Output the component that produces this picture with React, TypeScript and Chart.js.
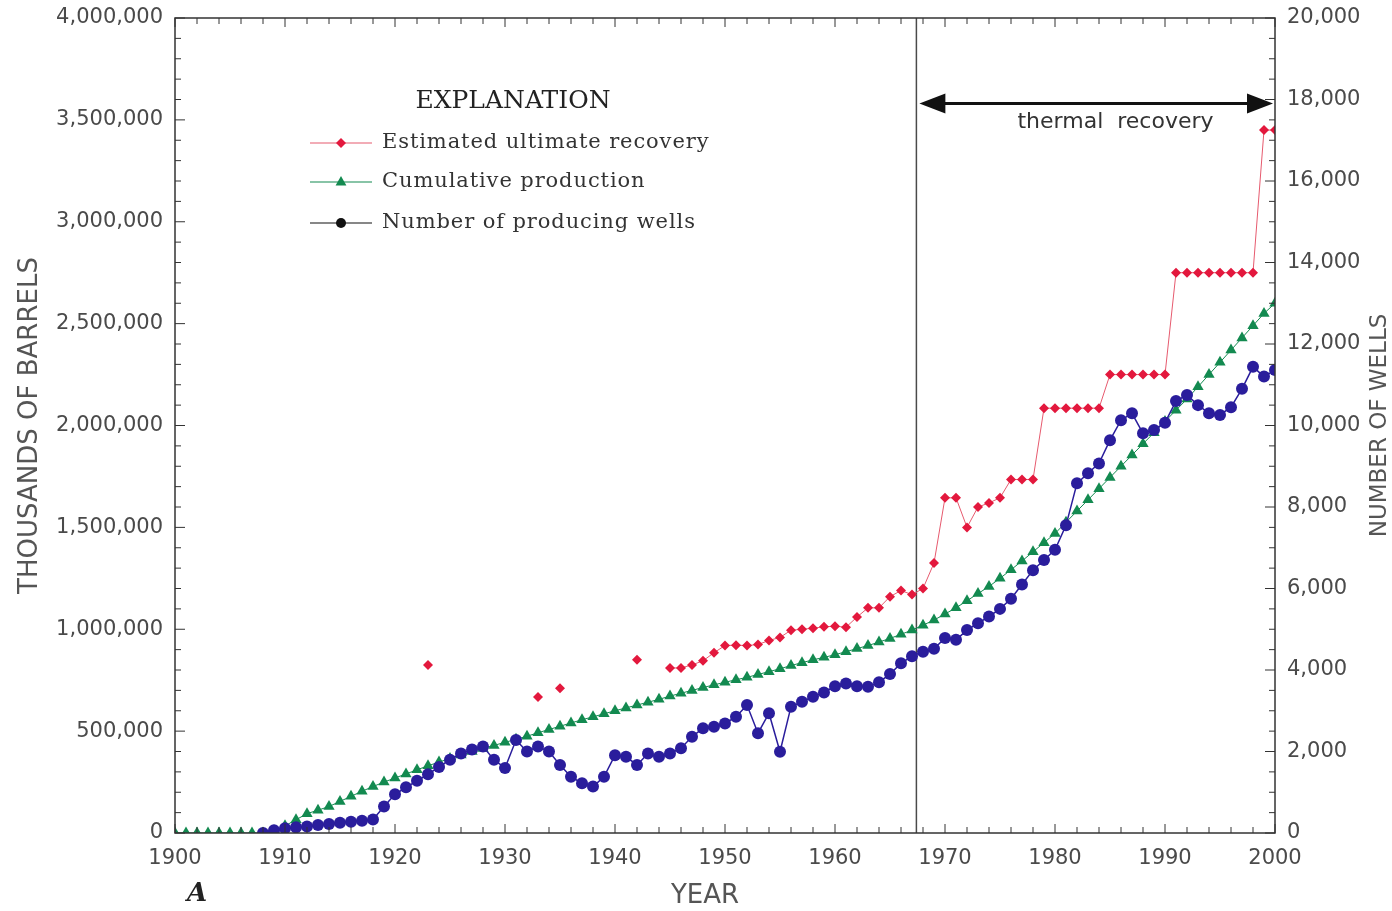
import React, { useEffect, useRef } from "react";
import { Chart, registerables } from "chart.js";

Chart.register(...registerables);

// ---------- DATA ----------
const years = [
  1900, 1901, 1902, 1903, 1904, 1905, 1906, 1907, 1908, 1909,
  1910, 1911, 1912, 1913, 1914, 1915, 1916, 1917, 1918, 1919,
  1920, 1921, 1922, 1923, 1924, 1925, 1926, 1927, 1928, 1929,
  1930, 1931, 1932, 1933, 1934, 1935, 1936, 1937, 1938, 1939,
  1940, 1941, 1942, 1943, 1944, 1945, 1946, 1947, 1948, 1949,
  1950, 1951, 1952, 1953, 1954, 1955, 1956, 1957, 1958, 1959,
  1960, 1961, 1962, 1963, 1964, 1965, 1966, 1967, 1968, 1969,
  1970, 1971, 1972, 1973, 1974, 1975, 1976, 1977, 1978, 1979,
  1980, 1981, 1982, 1983, 1984, 1985, 1986, 1987, 1988, 1989,
  1990, 1991, 1992, 1993, 1994, 1995, 1996, 1997, 1998, 1999,
  2000,
];

// Estimated ultimate recovery (thousands of barrels)
const estimatedUltimateRecovery: (number | null)[] = [
  null, null, null, null, null, null, null, null, null, null,
  null, null, null, null, null, null, null, null, null, null,
  null, null, null, 825000, null, null, null, null, null, null,
  null, null, null, 668000, null, 710000, null, null, null, null,
  null, null, 850000, null, null, 810000, 810000, 825000, 845000, 885000,
  920000, 922000, 920000, 925000, 945000, 960000, 995000, 1000000, 1005000, 1012000,
  1015000, 1010000, 1060000, 1105000, 1105000, 1160000, 1190000, 1170000, 1200000, 1325000,
  1645000, 1645000, 1500000, 1600000, 1620000, 1645000, 1735000, 1735000, 1735000, 2085000,
  2085000, 2085000, 2085000, 2085000, 2085000, 2250000, 2250000, 2250000, 2250000, 2250000,
  2250000, 2750000, 2750000, 2750000, 2750000, 2750000, 2750000, 2750000, 2750000, 3450000,
  3450000,
];

// Cumulative production (thousands of barrels)
const cumulativeProduction: number[] = [
  0, 0, 0, 0, 0, 0, 0, 0, 0, 10000,
  35000, 65000, 95000, 112000, 130000, 155000, 180000, 205000, 228000, 250000,
  270000, 290000, 310000, 330000, 348000, 366000, 383000, 400000, 415000, 430000,
  445000, 460000, 475000, 492000, 508000, 524000, 540000, 556000, 570000, 585000,
  600000, 614000, 628000, 642000, 656000, 672000, 686000, 700000, 714000, 727000,
  740000, 752000, 764000, 778000, 792000, 806000, 822000, 836000, 850000, 862000,
  875000, 890000, 905000, 920000, 937000, 955000, 975000, 996000, 1020000, 1045000,
  1075000, 1105000, 1140000, 1175000, 1210000, 1250000, 1292000, 1335000, 1380000, 1425000,
  1470000, 1525000, 1580000, 1635000, 1690000, 1745000, 1800000, 1855000, 1910000, 1965000,
  2020000, 2075000, 2130000, 2190000, 2250000, 2310000, 2370000, 2430000, 2490000, 2550000,
  2600000,
];

// Number of producing wells (right axis)
const producingWells: (number | null)[] = [
  null, null, null, null, null, null, null, null, 0, 70,
  115, 140, 160, 196, 220, 250, 277, 300, 330, 650,
  950, 1120, 1280, 1440, 1620, 1800, 1950, 2050, 2120, 1800,
  1595, 2280, 2000, 2120, 2000, 1670, 1380, 1220, 1140, 1380,
  1910, 1870, 1670, 1950, 1870, 1950, 2080, 2360, 2570, 2610,
  2690, 2850, 3140, 2450, 2940, 1995, 3100, 3220, 3345, 3450,
  3600, 3670, 3600, 3590, 3700, 3900, 4164, 4340, 4450, 4520,
  4785, 4740, 4980, 5150, 5310, 5500, 5750, 6100, 6450, 6700,
  6950, 7550, 8580, 8830, 9070, 9640, 10130, 10300, 9810, 9890,
  10070, 10600, 10750, 10500, 10300, 10260, 10450, 10900, 11440, 11200,
  11360,
];

const seriesLabels = [
  "Estimated ultimate recovery",
  "Cumulative production",
  "Number of producing wells",
];

const THERMAL_START = 1967.4;
const ARROW_WELLS = 17900;
const THERMAL_TEXT_YEAR = 1985.5;
const THERMAL_TEXT_WELLS = 17450;

// ---------- STYLE ----------
const RED = "#e3183d";
const RED_LINE = "#e65a6e";
const GREEN = "#138a50";
const BLUE = "#2a1d9c";
const TICK_FONT = { family: "'DejaVu Sans', sans-serif", size: 21, lineHeight: 1 };
const Y_TICK_FONT = { family: "'DejaVu Sans', sans-serif", size: 21, lineHeight: 0.7 };
const TICK_COLOR = "#4a4a4a";

function drawMarker(ctx: CanvasRenderingContext2D, kind: string, x: number, y: number, r: number, color: string) {
  ctx.save();
  ctx.fillStyle = color;
  ctx.beginPath();
  if (kind === "diamond") {
    ctx.moveTo(x, y - r);
    ctx.lineTo(x + r, y);
    ctx.lineTo(x, y + r);
    ctx.lineTo(x - r, y);
  } else if (kind === "triangle") {
    ctx.moveTo(x, y - r);
    ctx.lineTo(x + r * 0.9, y + r * 0.6);
    ctx.lineTo(x - r * 0.9, y + r * 0.6);
  } else {
    ctx.arc(x, y, r, 0, Math.PI * 2);
  }
  ctx.closePath();
  ctx.fill();
  ctx.restore();
}

const overlayPlugin = {
  id: "overlay",
  beforeDatasetsDraw(chart: any) {
    const { ctx, chartArea, scales } = chart;
    const x = scales.x.getPixelForValue(THERMAL_START);
    ctx.save();
    ctx.strokeStyle = "#4a4a4a";
    ctx.lineWidth = 1.5;
    ctx.beginPath();
    ctx.moveTo(x, chartArea.top);
    ctx.lineTo(x, chartArea.bottom);
    ctx.stroke();
    ctx.restore();
  },
  afterDraw(chart: any) {
    const { ctx, chartArea, scales } = chart;
    const { left, right, top, bottom } = chartArea;
    const xs = scales.x;
    const yl = scales.y;
    const yr = scales.y2;
    ctx.save();

    // frame
    ctx.strokeStyle = "#333";
    ctx.lineWidth = 1.5;
    ctx.strokeRect(left, top, right - left, bottom - top);

    // x ticks (bottom & top, inward)
    ctx.lineWidth = 1;
    for (let v = 1900; v <= 2000; v += 2) {
      const px = xs.getPixelForValue(v);
      const len = v % 10 === 0 ? 9 : 6;
      ctx.beginPath();
      ctx.moveTo(px, bottom);
      ctx.lineTo(px, bottom - len);
      ctx.moveTo(px, top);
      ctx.lineTo(px, top + len);
      ctx.stroke();
    }
    // left ticks
    for (let v = 0; v <= 4000000; v += 100000) {
      const py = yl.getPixelForValue(v);
      const len = v % 500000 === 0 ? 10 : 6;
      ctx.beginPath();
      ctx.moveTo(left, py);
      ctx.lineTo(left + len, py);
      ctx.stroke();
    }
    // right ticks
    for (let v = 0; v <= 20000; v += 500) {
      const py = yr.getPixelForValue(v);
      const len = v % 2000 === 0 ? 10 : 6;
      ctx.beginPath();
      ctx.moveTo(right, py);
      ctx.lineTo(right - len, py);
      ctx.stroke();
    }

    // thermal recovery arrow
    const x1 = xs.getPixelForValue(THERMAL_START) + 3;
    const x2 = right - 2;
    const ay = yr.getPixelForValue(ARROW_WELLS);
    ctx.strokeStyle = "#111";
    ctx.fillStyle = "#111";
    ctx.lineWidth = 3;
    ctx.beginPath();
    ctx.moveTo(x1 + 20, ay);
    ctx.lineTo(x2 - 20, ay);
    ctx.stroke();
    ctx.beginPath();
    ctx.moveTo(x1, ay);
    ctx.lineTo(x1 + 26, ay - 10);
    ctx.lineTo(x1 + 26, ay + 10);
    ctx.closePath();
    ctx.fill();
    ctx.beginPath();
    ctx.moveTo(x2, ay);
    ctx.lineTo(x2 - 26, ay - 10);
    ctx.lineTo(x2 - 26, ay + 10);
    ctx.closePath();
    ctx.fill();

    ctx.fillStyle = "#333";
    ctx.font = "22px 'DejaVu Sans', sans-serif";
    ctx.textAlign = "center";
    ctx.textBaseline = "middle";
    ctx.fillText("thermal  recovery", xs.getPixelForValue(THERMAL_TEXT_YEAR), yr.getPixelForValue(THERMAL_TEXT_WELLS));

    // legend
    const lx = left + 135;
    ctx.fillStyle = "#222";
    ctx.font = "25px 'DejaVu Serif', serif";
    ctx.textAlign = "center";
    ctx.fillText("EXPLANATION", left + 338, top + 83);
    const rows = [
      { y: top + 125, color: RED, line: RED_LINE, kind: "diamond", r: 5 },
      { y: top + 164, color: GREEN, line: GREEN, kind: "triangle", r: 6 },
      { y: top + 205, color: "#111", line: "#111", kind: "circle", r: 5 },
    ];
    ctx.font = "21px 'DejaVu Serif', serif";
    ctx.textAlign = "left";
    (ctx as any).letterSpacing = "0.9px";
    rows.forEach((row, i) => {
      ctx.strokeStyle = row.line;
      ctx.lineWidth = 1.2;
      ctx.beginPath();
      ctx.moveTo(lx, row.y);
      ctx.lineTo(lx + 62, row.y);
      ctx.stroke();
      drawMarker(ctx, row.kind, lx + 31, row.y, row.r, row.color);
      ctx.fillStyle = "#333";
      ctx.fillText(seriesLabels[i], lx + 72, row.y);
    });
    (ctx as any).letterSpacing = "0px";

    // axis titles
    ctx.fillStyle = "#555";
    ctx.font = "26px 'DejaVu Sans', sans-serif";
    ctx.textAlign = "center";
    ctx.textBaseline = "middle";
    ctx.save();
    ctx.translate(30, (top + bottom) / 2);
    ctx.rotate(-Math.PI / 2);
    ctx.fillText("THOUSANDS OF BARRELS", 0, 0);
    ctx.restore();
    ctx.save();
    ctx.translate(1380, (top + bottom) / 2);
    ctx.rotate(-Math.PI / 2);
    ctx.font = "23px 'DejaVu Sans', sans-serif";
    ctx.fillText("NUMBER OF WELLS", 0, 0);
    ctx.restore();
    ctx.font = "26px 'DejaVu Sans', sans-serif";
    ctx.fillText("YEAR", (left + right) / 2 - 20, 896);

    ctx.fillStyle = "#222";
    ctx.font = "italic bold 26px 'DejaVu Serif', serif";
    ctx.fillText("A", left + 22, 894);

    ctx.restore();
  },
};

function toPoints(vals: (number | null)[]) {
  return years.map((x, i) => ({ x, y: vals[i] }));
}

export default function App() {
  const ref = useRef<HTMLCanvasElement>(null);

  useEffect(() => {
    const canvas = ref.current;
    if (!canvas) return;
    const chart = new Chart(canvas, {
      type: "line",
      data: {
        datasets: [
          {
            label: seriesLabels[0],
            data: toPoints(estimatedUltimateRecovery) as any,
            yAxisID: "y",
            borderColor: RED_LINE,
            backgroundColor: RED,
            borderWidth: 1,
            pointStyle: "rectRot",
            pointRadius: 5,
            pointBorderWidth: 0,
            pointBackgroundColor: RED,
            spanGaps: false,
            tension: 0,
          },
          {
            label: seriesLabels[2],
            data: toPoints(producingWells) as any,
            yAxisID: "y2",
            borderColor: BLUE,
            backgroundColor: BLUE,
            borderWidth: 1.5,
            pointStyle: "circle",
            pointRadius: 6,
            pointBorderWidth: 0,
            pointBackgroundColor: BLUE,
            spanGaps: false,
            tension: 0,
          },
          {
            label: seriesLabels[1],
            data: toPoints(cumulativeProduction) as any,
            yAxisID: "y",
            borderColor: GREEN,
            backgroundColor: GREEN,
            borderWidth: 1,
            pointStyle: "triangle",
            pointRadius: 6.5,
            pointBorderWidth: 0,
            pointBackgroundColor: GREEN,
            tension: 0,
          },
        ],
      },
      options: {
        animation: false,
        responsive: false,
        devicePixelRatio: 1,
        layout: { padding: { top: 18, left: 0, right: 0, bottom: 0 } },
        plugins: {
          legend: { display: false },
          tooltip: { enabled: false },
        },
        scales: {
          x: {
            type: "linear",
            position: "bottom",
            min: 1900,
            max: 2000,
            grid: { display: false, drawTicks: false },
            border: { display: false },
            ticks: {
              stepSize: 10,
              autoSkip: false,
              maxRotation: 0,
              padding: 15,
              font: TICK_FONT,
              color: TICK_COLOR,
              callback: (v: any) => String(v),
            },
            afterFit: (s: any) => {
              s.height = 78;
            },
          },
          y: {
            type: "linear",
            position: "left",
            min: 0,
            max: 4000000,
            grid: { display: false, drawTicks: false },
            border: { display: false },
            ticks: {
              stepSize: 500000,
              autoSkip: false,
              padding: 12,
              font: Y_TICK_FONT,
              color: TICK_COLOR,
              callback: (v: any) => Number(v).toLocaleString("en-US"),
            },
            afterFit: (s: any) => {
              s.width = 175;
              s.paddingTop = 0;
              s.paddingBottom = 0;
            },
          },
          y2: {
            type: "linear",
            position: "right",
            min: 0,
            max: 20000,
            grid: { display: false, drawTicks: false },
            border: { display: false },
            ticks: {
              stepSize: 2000,
              autoSkip: false,
              padding: 12,
              font: Y_TICK_FONT,
              color: TICK_COLOR,
              callback: (v: any) => Number(v).toLocaleString("en-US"),
            },
            afterFit: (s: any) => {
              s.width = 117;
              s.paddingTop = 0;
              s.paddingBottom = 0;
            },
          },
        },
      },
      plugins: [overlayPlugin],
    });
    return () => chart.destroy();
  }, []);

  return (
    <div style={{ position: "fixed", left: 0, top: 0, width: 1392, height: 911, background: "#fff" }}>
      <canvas ref={ref} width={1392} height={911} style={{ display: "block", width: 1392, height: 911 }} />
    </div>
  );
}
